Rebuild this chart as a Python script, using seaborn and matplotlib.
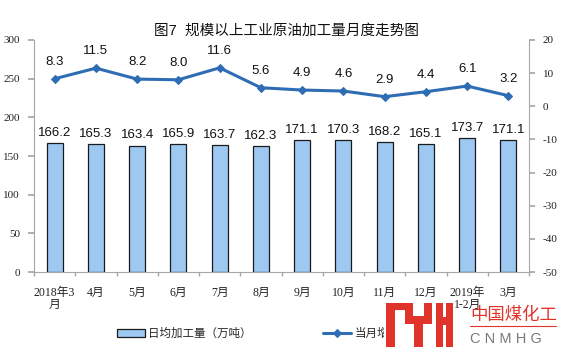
import numpy as np
import pandas as pd
import matplotlib
matplotlib.use("Agg")
import matplotlib.pyplot as plt
from matplotlib.patches import Rectangle
import seaborn as sns

months = ["2018年3\n月", "4月", "5月", "6月", "7月", "8月", "9月", "10月",
          "11月", "12月", "2019年\n1-2月", "3月"]
daily_output = [166.2, 165.3, 163.4, 165.9, 163.7, 162.3, 171.1, 170.3,
                168.2, 165.1, 173.7, 171.1]
growth = [8.3, 11.5, 8.2, 8.0, 11.6, 5.6, 4.9, 4.6, 2.9, 4.4, 6.1, 3.2]

bar_label = "日均加工量（万吨）"
line_label = "当月增速（%）"
title = "图7  规模以上工业原油加工量月度走势图"

sns.set_theme(style="white")
plt.rcParams["font.family"] = ["Liberation Sans", "Noto Sans CJK SC"]
plt.rcParams["axes.unicode_minus"] = False

df = pd.DataFrame({"month": months, "output": daily_output, "growth": growth})
df["pos"] = np.arange(len(df))

W, H = 561, 357
fig = plt.figure(figsize=(W / 100, H / 100), dpi=100)
ax = fig.add_axes([0.0606, 0.238, 0.8824, 0.650])

sns.barplot(data=df, x="month", y="output", ax=ax, color="#9DC8F2",
            saturation=1, width=0.39, edgecolor="#1a1a1a", linewidth=0.9,
            label=bar_label)
if ax.get_legend():
    ax.get_legend().remove()
ax.set_ylim(0, 300)
ax.set_yticks(range(0, 301, 50))
ax.set_xlim(-0.5, len(df) - 0.5)
ax.set_xlabel("")
ax.set_ylabel("")

for p, v in zip(df["pos"], df["output"]):
    ax.annotate(f"{v:.1f}", (p, v), xytext=(0, 3), textcoords="offset points",
                ha="center", va="bottom", fontsize=9.5, color="#111111")

ax2 = ax.twinx()
sns.lineplot(data=df, x="pos", y="growth", ax=ax2, color="#2E6DB4",
             linewidth=2.2, marker="D", markersize=4.5,
             markeredgecolor="#2E6DB4", label=line_label)
if ax2.get_legend():
    ax2.get_legend().remove()
ax2.set_ylim(-50, 20)
ax2.set_yticks(range(-50, 21, 10))
ax2.set_ylabel("")
ax2.set_xlabel("")
ax2.set_xlim(-0.5, len(df) - 0.5)
for p, v in zip(df["pos"], df["growth"]):
    ax2.annotate(f"{v:.1f}", (p, v), xytext=(0, 8), textcoords="offset points",
                 ha="center", va="bottom", fontsize=9.5, color="#111111")

serif = ["Liberation Serif", "Noto Sans CJK SC"]
for a in (ax, ax2):
    for s in a.spines.values():
        s.set_visible(False)
ax.spines["left"].set_visible(True)
ax.spines["bottom"].set_visible(True)
ax2.spines["right"].set_visible(True)
for s in (ax.spines["left"], ax.spines["bottom"], ax2.spines["right"]):
    s.set_color("#a6a6a6")
    s.set_linewidth(0.8)

ax.tick_params(axis="y", which="both", left=True, length=4, color="#a6a6a6",
               labelsize=8, pad=6)
ax2.tick_params(axis="y", right=True, length=4, color="#a6a6a6",
                labelsize=8, pad=6)
ax.set_xticks(df["pos"])
ax.set_xticklabels(months, fontsize=8.5, linespacing=0.95)
ax.set_xticks(np.arange(-0.5, len(df), 1), minor=True)
ax.tick_params(axis="x", which="major", bottom=False, pad=5)
ax.tick_params(axis="x", which="minor", bottom=True, length=3, color="#a6a6a6")
for lab in ax.get_xticklabels() + ax.get_yticklabels() + ax2.get_yticklabels():
    lab.set_family(serif)
    lab.set_color("#222222")

fig.suptitle(title, x=0.51, y=0.935, fontsize=10.5, color="#111111")

h1, l1 = ax.get_legend_handles_labels()
h2, l2 = ax2.get_legend_handles_labels()
fig.legend(h1 + h2, l1 + l2, loc="center left", bbox_to_anchor=(117 / W, 1 - 334 / H),
           ncol=2, frameon=False, fontsize=8.3, columnspacing=6.2,
           borderpad=0, borderaxespad=0,
           handlelength=2.4, handleheight=0.6, handletextpad=0.3)

# watermark logo in the lower right corner (drawn over the legend)
def px_rect(x0, y0, x1, y1, color):
    fig.add_artist(Rectangle((x0 / W, 1 - y1 / H), (x1 - x0) / W, (y1 - y0) / H,
                             transform=fig.transFigure, facecolor=color,
                             edgecolor="none", zorder=10))

px_rect(384, 312, 462, H, "white")
red = "#e0342a"
px_rect(386, 303, 395, 347, red)
px_rect(386, 303, 413, 310, red)
px_rect(405, 303, 413, 323, red)
px_rect(424, 303, 432, 323, red)
px_rect(405, 316, 432, 324, red)
px_rect(414, 316, 423, 347, red)
px_rect(436, 303, 443, 347, red)
px_rect(446, 303, 453, 347, red)
px_rect(436, 317, 453, 325, red)
fig.text(470 / W, 1 - 315 / H, "中国煤化工", fontsize=12.5, color=red,
         ha="left", va="center", family=["Noto Sans CJK SC"], zorder=11)
fig.add_artist(plt.Line2D([470 / W, 556 / W], [1 - 326 / H, 1 - 326 / H],
                          color=red, linewidth=0.8, transform=fig.transFigure,
                          zorder=11))
fig.text(470 / W, 1 - 339 / H, "C N M H G", fontsize=10.5, color="#7a7a7a",
         ha="left", va="center", zorder=11)

fig.savefig("out.png", dpi=100)
